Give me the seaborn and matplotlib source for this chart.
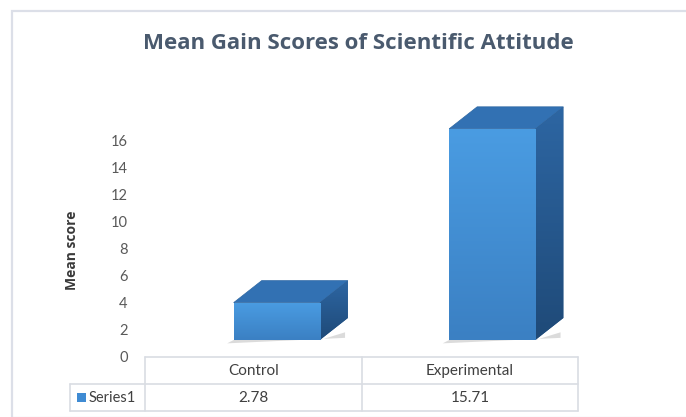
import numpy as np
import pandas as pd
import matplotlib
matplotlib.use("Agg")
import matplotlib.pyplot as plt
import matplotlib.transforms as mtransforms
from matplotlib.patches import Polygon, Rectangle
from matplotlib.colors import LinearSegmentedColormap
import seaborn as sns

# ---- data ----
categories = ["Control", "Experimental"]
values = [2.78, 15.71]
series_name = "Series1"
value_labels = ["2.78", "15.71"]
yticks = [0, 2, 4, 6, 8, 10, 12, 14, 16]
title = "Mean Gain Scores of Scientific Attitude"
ylabel = "Mean score"

sns.set_theme(style="white")
plt.rcParams['font.family'] = ['Lato', 'DejaVu Sans']

W, H = 686, 417
fig = plt.figure(figsize=(W / 100, H / 100), dpi=100)
fig.patch.set_facecolor("white")

def fx(px):
    return px / W

def fy(py):
    return (H - py) / H

# chart frame
fig.add_artist(Rectangle((fx(12), fy(418)), fx(700), (418 - 10.5) / H,
                         transform=fig.transFigure, fill=False,
                         edgecolor="#dcdfe8", linewidth=1.6))

ax_left, ax_right = 147, 578
ax_bottom, ax_top = 356, 100.6
ax = fig.add_axes([fx(ax_left), fy(ax_bottom), fx(ax_right - ax_left),
                   (ax_bottom - ax_top) / H])
ax.set_facecolor("none")

df = pd.DataFrame({"category": categories, "value": values})
sns.barplot(data=df, x="category", y="value", width=0.40, color="#4393dc",
            ax=ax, saturation=1, linewidth=0)

ax.set_xlim(-0.5, 1.5)
ax.set_ylim(0, 19)

# pixel scales
px_per_x = (ax_right - ax_left) / 2.0
px_per_y = (ax_bottom - ax_top) / 19.0

# offset of the 3D front face relative to the back wall (right and up)
off = ax.transData + mtransforms.ScaledTranslation(22 / 100, 16 / 100, fig.dpi_scale_trans)
ddx = 28 / px_per_x
ddy = 22 / px_per_y

front_cmap = LinearSegmentedColormap.from_list("front", ["#3b80c3", "#4a9ce2"])
side_cmap = LinearSegmentedColormap.from_list("side", ["#1f4a78", "#2d66a3"])

for p in list(ax.patches):
    x0 = p.get_x()
    w = p.get_width()
    h = p.get_height()
    p.set_transform(off)
    p.set_zorder(3)
    p.set_clip_on(False)
    # shadow
    sh = Polygon([(x0 - 0.03, -0.25), (x0 + w + ddx * 0.9, -0.25 + ddy * 0.25),
                  (x0 + w + ddx * 0.9, ddy * 0.35), (x0 + w, 0), (x0, 0)],
                 closed=True, facecolor="#9a9a9a", alpha=0.35, edgecolor="none",
                 transform=off, zorder=2, clip_on=False)
    ax.add_patch(sh)
    # gradient front
    grad = np.linspace(0, 1, 100).reshape(-1, 1)
    im = ax.imshow(grad, extent=[x0, x0 + w, 0, h], origin="lower",
                   cmap=front_cmap, aspect="auto", transform=off, zorder=4)
    im.set_clip_path(p)
    # top face
    top = Polygon([(x0, h), (x0 + w, h), (x0 + w + ddx, h + ddy), (x0 + ddx, h + ddy)],
                  closed=True, facecolor="#3271b3", edgecolor="#2c66a2",
                  linewidth=0.5, transform=off, zorder=3, clip_on=False)
    ax.add_patch(top)
    # side face
    side = Polygon([(x0 + w, 0), (x0 + w + ddx, ddy), (x0 + w + ddx, h + ddy), (x0 + w, h)],
                   closed=True, facecolor="#27588d", edgecolor="none",
                   transform=off, zorder=3, clip_on=False)
    ax.add_patch(side)
    im2 = ax.imshow(grad, extent=[x0 + w, x0 + w + ddx, 0, h + ddy], origin="lower",
                    cmap=side_cmap, aspect="auto", transform=off, zorder=3.5)
    im2.set_clip_path(side)

ax.set_xlim(-0.5, 1.5)
ax.set_ylim(0, 19)

for s in ax.spines.values():
    s.set_visible(False)
ax.set_yticks(yticks)
ax.set_yticklabels([str(t) for t in yticks])
ax.tick_params(axis="y", length=0, pad=14, labelsize=10.5, labelcolor="#595959")
ax.set_xticks([])
ax.set_xlabel("")
ax.set_ylabel("")

# title and y label
fig.text(fx(358), fy(49), title, ha="center", va="baseline",
         fontsize=16, fontweight="bold", color="#4a5a6e",
         family=["Open Sans", "DejaVu Sans"])
fig.text(fx(72), fy(250), ylabel, ha="center", va="center", rotation=90,
         fontsize=10, fontweight="bold", color="#3a3a3a",
         family=["Open Sans", "DejaVu Sans"])

# data table
grid_c = "#d9dde3"
def hline(y, x1, x2):
    fig.add_artist(plt.Line2D([fx(x1), fx(x2)], [fy(y), fy(y)], color=grid_c,
                              lw=1.2, transform=fig.transFigure))
def vline(x, y1, y2):
    fig.add_artist(plt.Line2D([fx(x), fx(x)], [fy(y1), fy(y2)], color=grid_c,
                              lw=1.2, transform=fig.transFigure))

hline(357, 145, 578)
hline(384, 70, 578)
hline(411, 70, 578)
vline(70, 384, 411)
vline(145, 357, 411)
vline(362, 357, 411)
vline(578, 357, 411)

col_centers = [(145 + 362) / 2, (362 + 578) / 2]
for c, cat, lab in zip(col_centers, categories, value_labels):
    fig.text(fx(c), fy(371), cat, ha="center", va="center", fontsize=11,
             color="#404040")
    fig.text(fx(c), fy(397.5), lab, ha="center", va="center", fontsize=11,
             color="#404040")

fig.add_artist(Rectangle((fx(77), fy(402)), fx(9), 9 / H, transform=fig.transFigure,
                         facecolor="#3f8bd3", edgecolor="none"))
fig.text(fx(89), fy(397.5), series_name, ha="left", va="center", fontsize=10.5,
         color="#404040")

fig.savefig("out.png", dpi=100, facecolor="white")
